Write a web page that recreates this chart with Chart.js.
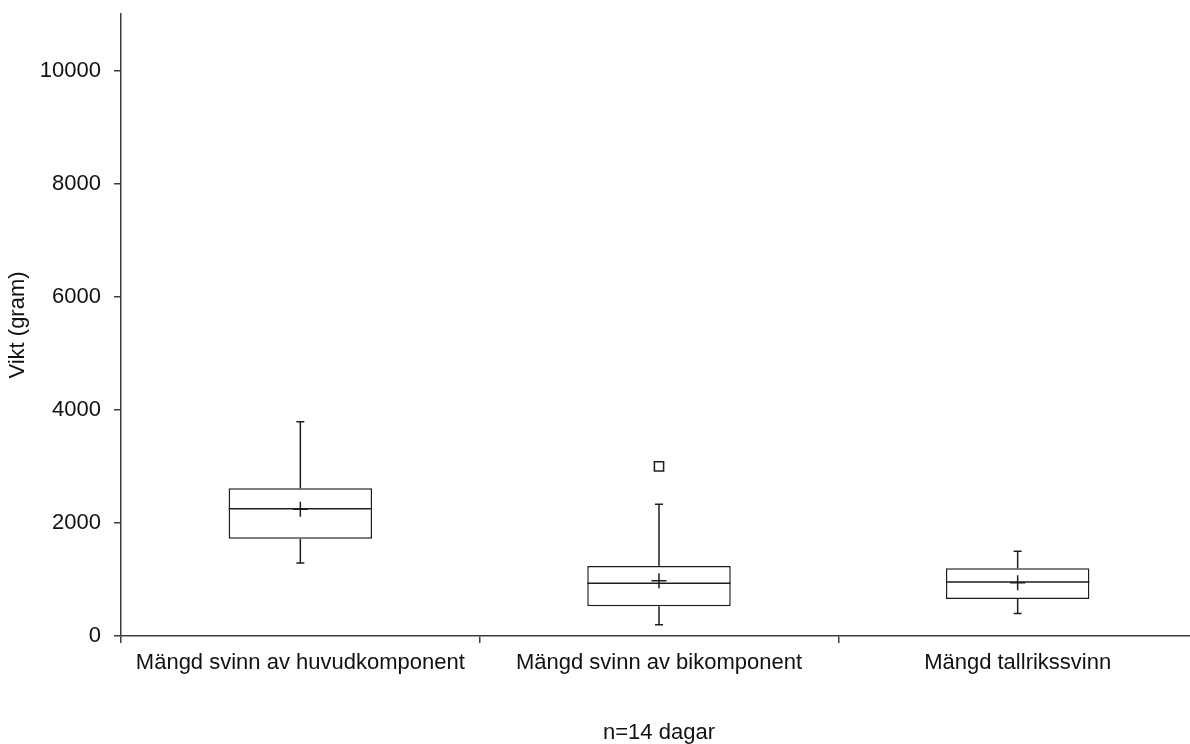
<!DOCTYPE html>
<html><head><meta charset="utf-8">
<script src="https://cdn.jsdelivr.net/npm/chart.js@4"></script>
<style>html,body{margin:0;padding:0;background:#fff;overflow:hidden}</style>
</head><body>
<canvas id="c" width="1206" height="744"></canvas>
<script>
const categories = ['Mängd svinn av huvudkomponent', 'Mängd svinn av bikomponent', 'Mängd tallrikssvinn'];
const whiskerLow = [1290, 200, 400];
const q1 = [1720, 525, 655];
const median = [2250, 935, 955];
const q3 = [2615, 1240, 1200];
const whiskerHigh = [3790, 2330, 1500];
const means = [2240, 975, 940];
const outliers = [null, 3000, null];
const yTicks = [0, 2000, 4000, 6000, 8000, 10000];
const yTitle = 'Vikt (gram)';
const xTitle = 'n=14 dagar';

const INK = '#1e1e1e';
const AXIS = '#3c3c3c';
const TEXT = '#111';
const FONT = "'Liberation Sans', Arial, sans-serif";
const FS = 22;

const boxPlugin = {
  id: 'boxWhiskers',
  afterDatasetDraw(chart, args) {
    if (args.index !== 0) return;
    const y = chart.scales.y;
    const ctx = chart.ctx;
    const meta = chart.getDatasetMeta(0);
    ctx.save();
    ctx.strokeStyle = INK;
    ctx.lineWidth = 1.5;
    meta.data.forEach((bar, i) => {
      const cx = bar.x;
      const half = bar.width / 2;
      const cap = 4;
      const pQ1 = y.getPixelForValue(q1[i]);
      const pQ3 = y.getPixelForValue(q3[i]);
      const pMed = y.getPixelForValue(median[i]);
      const pLo = y.getPixelForValue(whiskerLow[i]);
      const pHi = y.getPixelForValue(whiskerHigh[i]);
      ctx.beginPath();
      ctx.moveTo(cx, pQ3); ctx.lineTo(cx, pHi);
      ctx.moveTo(cx - cap, pHi); ctx.lineTo(cx + cap, pHi);
      ctx.moveTo(cx, pQ1); ctx.lineTo(cx, pLo);
      ctx.moveTo(cx - cap, pLo); ctx.lineTo(cx + cap, pLo);
      ctx.moveTo(cx - half, pMed); ctx.lineTo(cx + half, pMed);
      ctx.stroke();
    });
    ctx.restore();
  }
};

new Chart(document.getElementById('c'), {
  type: 'bar',
  data: {
    labels: categories,
    datasets: [
      {
        data: categories.map((_, i) => [q1[i], q3[i]]),
        backgroundColor: '#fff',
        borderColor: INK,
        borderWidth: 1.5,
        borderSkipped: false,
        barPercentage: 0.4,
        categoryPercentage: 1,
        order: 3
      },
      {
        type: 'line',
        data: means,
        showLine: false,
        pointStyle: 'cross',
        pointRadius: 7.5,
        pointBorderColor: INK,
        pointBorderWidth: 1.5,
        order: 1
      },
      {
        type: 'line',
        data: outliers,
        showLine: false,
        pointStyle: 'rect',
        pointRadius: 6.5,
        pointBackgroundColor: '#fff',
        pointBorderColor: INK,
        pointBorderWidth: 1.5,
        order: 2
      }
    ]
  },
  options: {
    responsive: false,
    animation: false,
    layout: { padding: { top: 14, right: 0, left: 0, bottom: 0 } },
    plugins: { legend: { display: false }, tooltip: { enabled: false } },
    scales: {
      x: {
        type: 'category',
        offset: true,
        afterFit(s) { s.height = 108; s.paddingLeft = 0; s.paddingRight = 0; },
        grid: { offset: true, drawOnChartArea: false, drawTicks: true, tickLength: 7, color: AXIS, lineWidth: 1.5 },
        border: { display: true, color: AXIS, width: 1.5 },
        ticks: { color: TEXT, font: { family: FONT, size: FS }, padding: 7, maxRotation: 0, autoSkip: false },
        title: { display: true, text: xTitle, color: TEXT, font: { family: FONT, size: FS, lineHeight: 1 }, padding: { top: 0, bottom: 0 } }
      },
      y: {
        type: 'linear',
        min: 0,
        max: 11000,
        afterFit(s) { s.width = 121; s.paddingTop = 0; s.paddingBottom = 0; },
        afterBuildTicks(s) { s.ticks = yTicks.map(v => ({ value: v })); },
        grid: { drawOnChartArea: false, drawTicks: true, tickLength: 7, color: AXIS, lineWidth: 1.5 },
        border: { display: true, color: AXIS, width: 1.5 },
        ticks: { color: TEXT, font: { family: FONT, size: FS }, padding: 13, callback: v => String(v) },
        title: { display: true, text: yTitle, color: TEXT, font: { family: FONT, size: FS, lineHeight: 1 }, padding: { top: 7, bottom: 0 } }
      }
    }
  },
  plugins: [boxPlugin]
});
</script>
</body></html>
